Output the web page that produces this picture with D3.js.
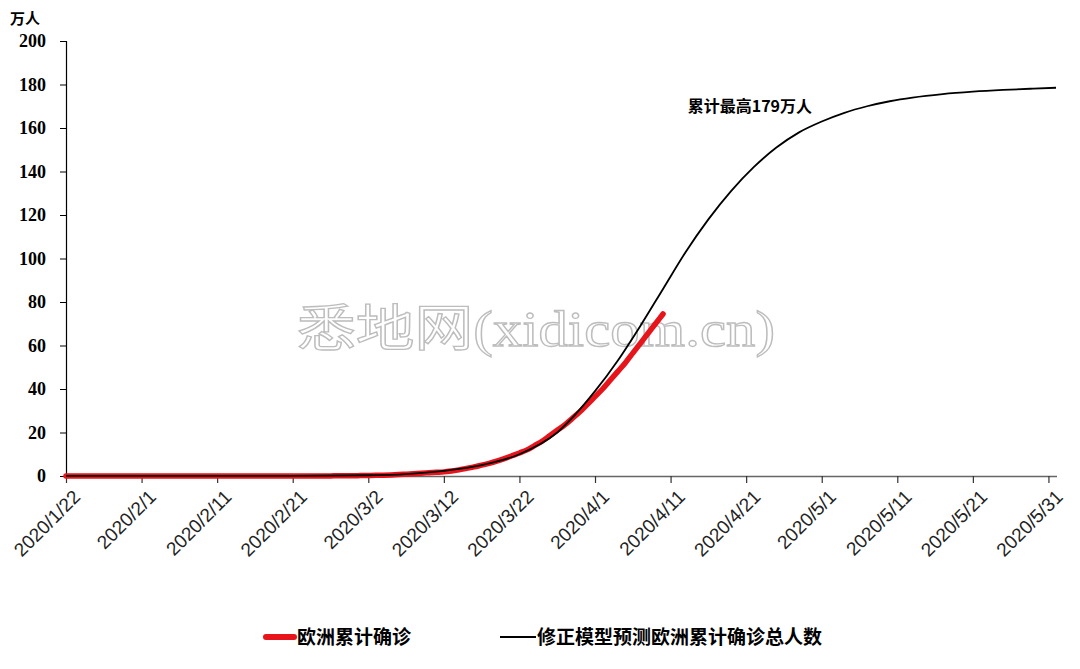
<!DOCTYPE html>
<html><head><meta charset="utf-8">
<script src="https://cdn.jsdelivr.net/npm/d3@7"></script>
<style>
html,body{margin:0;padding:0;background:#fff;}
svg{display:block;}
</style></head>
<body>
<svg id="chart" width="1080" height="669"></svg>
<script>
// ---- data ----
const startDate = "2020-01-22";   // first day of red series
const redValues = [ // 欧洲累计确诊 (万人), daily from 2020/1/22 to 2020/4/9
  0,0,0.0003,0.0003,0.0003,0.0004,0.0008,0.001,0.0012,0.0015,
  0.0022,0.0025,0.0026,0.0027,0.003,0.0032,0.0035,0.0038,0.0042,0.0045,
  0.0045,0.0046,0.0046,0.0046,0.0047,0.0047,0.0047,0.0047,0.0047,0.005,
  0.007,0.01,0.02,0.025,0.04,0.055,0.07,0.1,0.13,0.2,
  0.25,0.3,0.38,0.5,0.65,0.85,1.05,1.3,1.5,1.7,
  1.9,2.3,2.8,3.5,4.2,5.0,5.8,6.8,8.0,9.3,
  10.6,12.0,14.0,16.0,18.5,21.0,23.5,26.5,29.5,33.0,
  36.5,40.0,44.0,48.0,52.0,56.5,61.0,65.5,70.0,74.5
];
const modelDates = ["2020-01-22","2020-02-01","2020-02-11","2020-02-21","2020-03-02","2020-03-07",
  "2020-03-12","2020-03-17","2020-03-22","2020-03-27","2020-04-01","2020-04-04","2020-04-07",
  "2020-04-10","2020-04-13","2020-04-16","2020-04-19","2020-04-22","2020-04-25","2020-04-28",
  "2020-05-01","2020-05-04","2020-05-07","2020-05-10","2020-05-13","2020-05-17","2020-05-21",
  "2020-05-25","2020-05-29","2020-06-01"];
const modelValues = [0.05,0.05,0.06,0.1,0.35,0.9,
  2.4,5.0,10.0,20.0,39.0,53.0,69.0,
  86.0,103.0,118.0,131.0,142.0,151.0,158.0,
  163.0,167.0,170.0,172.3,174.0,175.6,176.7,
  177.5,178.1,178.5];
const xTickLabels = ["2020/1/22","2020/2/1","2020/2/11","2020/2/21","2020/3/2","2020/3/12","2020/3/22",
  "2020/4/1","2020/4/11","2020/4/21","2020/5/1","2020/5/11","2020/5/21","2020/5/31"];
const yTicks = [0,20,40,60,80,100,120,140,160,180,200];
const seriesNames = ["欧洲累计确诊","修正模型预测欧洲累计确诊总人数"];
const yUnit = "万人";
const annotationText = "累计最高179万人";
const annotationDate = "2020-04-13";
const annotationValue = 167.5;
const watermark = "悉地网(xidicom.cn)";

// ---- chart ----
const parse = d3.timeParse("%Y-%m-%d");
const parseTick = d3.timeParse("%Y/%m/%d");
const svg = d3.select("#chart");
const W = 1080, H = 669;
svg.append("rect").attr("width",W).attr("height",H).attr("fill","#fff");

const x = d3.scaleTime().domain([parse("2020-01-22"), parse("2020-06-01")]).range([66, 1056]);
const y = d3.scaleLinear().domain([0,200]).range([476, 41]);

// watermark (behind the lines)
svg.append("text")
  .attr("x", 297).attr("y", 346)
  .attr("textLength", 478).attr("lengthAdjust","spacingAndGlyphs")
  .attr("font-family","'Liberation Serif','Noto Sans CJK SC',serif")
  .attr("font-size", 50)
  .attr("fill","#fff").attr("stroke","#bdbdbd").attr("stroke-width",1.3)
  .text(watermark);

// y axis
const yAxis = d3.axisLeft(y).tickValues(yTicks).tickSizeOuter(0).tickSize(6).tickPadding(14);
const gy = svg.append("g").attr("transform","translate(66,0)").call(yAxis);
gy.select(".domain").attr("stroke","#000").attr("stroke-width",1.2);
gy.selectAll(".tick line").attr("stroke","#000");
gy.selectAll(".tick text")
  .attr("font-family","'Liberation Serif','Times New Roman',serif")
  .attr("font-weight","bold").attr("font-size",18).attr("fill","#000");

svg.append("text").attr("x",10).attr("y",24)
  .attr("font-family","'Noto Sans CJK SC',sans-serif").attr("font-weight","bold")
  .attr("font-size",15).attr("fill","#000").text(yUnit);

// x axis
const tickDates = xTickLabels.map(s => parseTick(s));
const xAxis = d3.axisBottom(x).tickValues(tickDates).tickSizeOuter(0).tickSize(7)
  .tickFormat((d,i) => xTickLabels[i]);
const gx = svg.append("g").attr("transform","translate(0,476)").call(xAxis);
gx.select(".domain").attr("stroke","#666").attr("stroke-width",1.3)
  .attr("d","M66,0.5H1057");
gx.selectAll(".tick line").attr("stroke","#333").attr("stroke-width",1.2);
gx.selectAll(".tick text")
  .attr("font-family","'Liberation Sans',Arial,sans-serif")
  .attr("font-size",19).attr("fill","#222")
  .attr("text-anchor","end")
  .attr("transform","translate(4,11) rotate(-45)")
  .attr("dy","0.35em").attr("y",9).attr("x",0);

// lines
const redData = redValues.map((v,i) => ({d: d3.timeDay.offset(parse(startDate), i), v}));
const modelData = modelDates.map((s,i) => ({d: parse(s), v: modelValues[i]}));
const line = d3.line().x(p => x(p.d)).y(p => y(p.v)).curve(d3.curveMonotoneX);

svg.append("path").datum(redData).attr("d", line)
  .attr("fill","none").attr("stroke","#e8141c").attr("stroke-width",5.5)
  .attr("stroke-linecap","round").attr("stroke-linejoin","round");
svg.append("path").datum(modelData).attr("d", line)
  .attr("fill","none").attr("stroke","#000").attr("stroke-width",1.8);

// annotation
svg.append("text").attr("x", x(parse(annotationDate))+2).attr("y", y(annotationValue))
  .attr("font-family","'Noto Sans CJK SC',sans-serif").attr("font-weight","bold")
  .attr("font-size",16).attr("fill","#000").text(annotationText);

// legend
const lg = svg.append("g");
lg.append("line").attr("x1",266).attr("x2",294).attr("y1",637).attr("y2",637)
  .attr("stroke","#e8141c").attr("stroke-width",6).attr("stroke-linecap","round");
lg.append("text").attr("x",297).attr("y",644)
  .attr("font-family","'Noto Sans CJK SC',sans-serif").attr("font-weight","bold")
  .attr("font-size",19).attr("fill","#000").text(seriesNames[0]);
lg.append("line").attr("x1",500).attr("x2",536).attr("y1",637).attr("y2",637)
  .attr("stroke","#000").attr("stroke-width",1.8);
lg.append("text").attr("x",537).attr("y",644)
  .attr("font-family","'Noto Sans CJK SC',sans-serif").attr("font-weight","bold")
  .attr("font-size",19).attr("fill","#000").text(seriesNames[1]);
</script>
</body></html>
